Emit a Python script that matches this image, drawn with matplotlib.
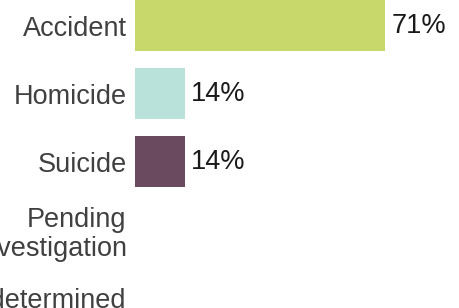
import matplotlib
matplotlib.use("Agg")
import matplotlib.pyplot as plt

# === Data ===
categories = ["Accident", "Homicide", "Suicide", "Pending\ninvestigation", "Undetermined"]
shares = [71.4, 14.3, 14.3, 0, 0]
value_labels = ["71%", "14%", "14%", "", ""]
colors = ["#c8d86a", "#b8e2da", "#6a4a5e", "#999999", "#999999"]

plt.rcParams["font.family"] = ["Liberation Sans", "DejaVu Sans"]

fig = plt.figure(figsize=(4.59, 3.08), dpi=100)
ax = fig.add_axes([135 / 459, 0, 324 / 459, 1])

ypos = list(range(len(categories)))
ax.barh(ypos, shares, height=0.75, color=colors)

for y, v, lab in zip(ypos, shares, value_labels):
    if lab:
        ax.text(v + 1.8, y, lab, va="center", ha="left", fontsize=19.5, color="#1a1a1a")

ax.set_yticks(ypos)
ax.set_yticklabels(categories, fontsize=19.5, color="#404040", linespacing=1.15)
ax.tick_params(axis="y", length=0, pad=6)
ax.set_xticks([])
ax.set_xlim(0, 324 / 3.5)
ax.set_ylim(4.154, -0.375)
for s in ax.spines.values():
    s.set_visible(False)

fig.savefig("out.png", dpi=100)
